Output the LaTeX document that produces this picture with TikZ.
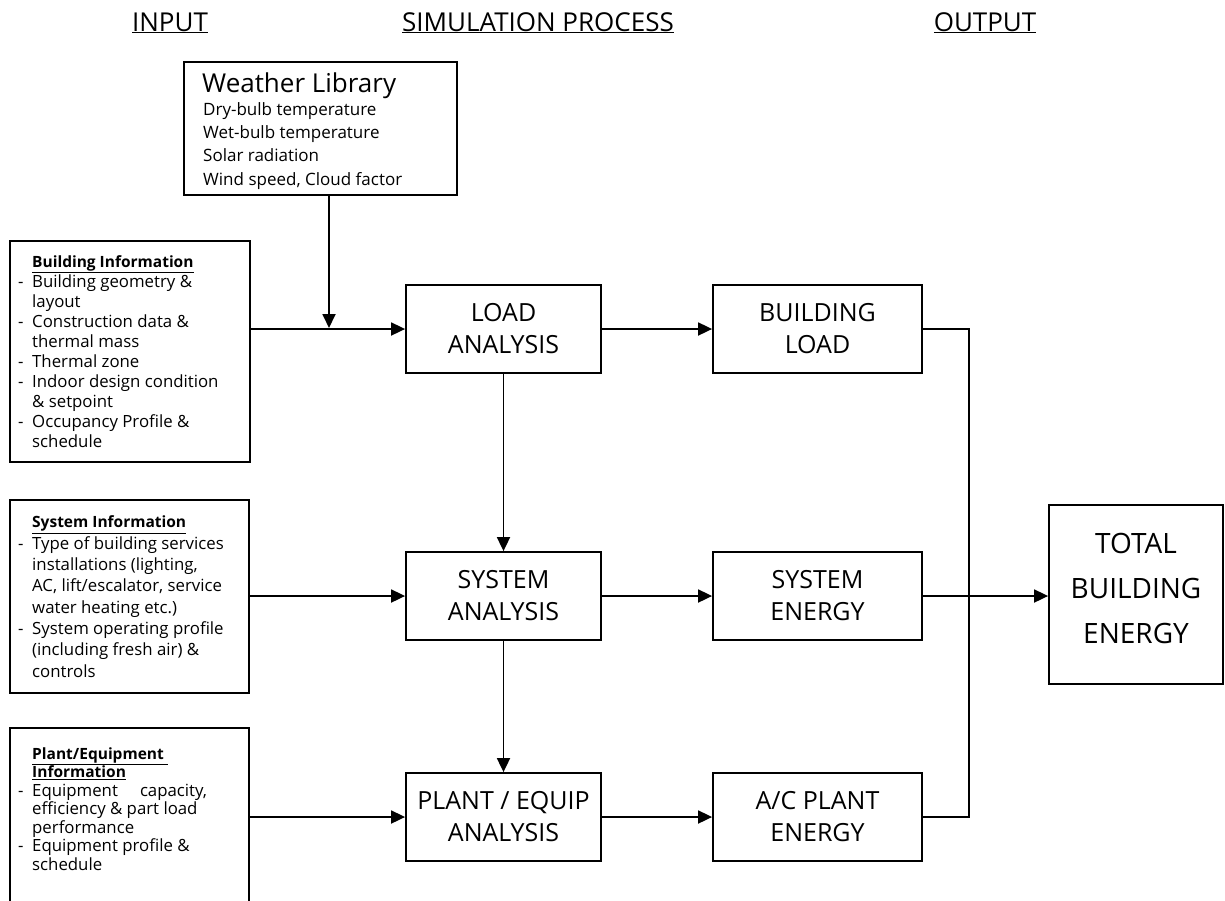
\documentclass[tikz,border=0pt]{standalone}
\usepackage{fontspec}
\setmainfont{Open Sans}
\usetikzlibrary{arrows.meta}
\newcommand\fs[2]{\fontsize{#1}{#2}\selectfont}
\newcommand\dsh{\makebox[14pt][l]{-}}
\newcommand\ind{\hspace*{14pt}}
\begin{document}
\begin{tikzpicture}[x=1pt,y=-1pt,
  frame/.style={draw, line width=1.8pt, inner sep=0pt},
  conn/.style={line width=1.8pt},
  arr/.style={conn, -{Triangle[length=14pt,width=13pt]}},
  hdr/.style={font=\fs{26}{30}, inner sep=0pt, anchor=base},
  proc/.style={frame, minimum height=88pt, align=center, font=\fs{25}{32}},
  info/.style={inner sep=0pt, anchor=base west, align=left},
]
\clip (0,0) rectangle (1225,900);
\fill[white] (0,0) rectangle (1225,900);

% headers
\node[hdr] (hin) at (170,31) {\underline{INPUT}};
\node[hdr] (hsim) at (538,31) {\underline{SIMULATION PROCESS}};
\node[hdr] (hout) at (985,31) {\underline{OUTPUT}};

% weather library (base anchor = baseline of the last line)
\node[frame, minimum width=273pt, minimum height=133pt] (wlib) at (320.5,128.5) {};
\node[info, font=\fs{26}{30}] (wtitle) at (202,92) {Weather Library};
\node[info, font=\fs{17}{23.3}] (wbody) at (203,185) {Dry-bulb temperature\\Wet-bulb temperature\\Solar radiation\\Wind speed, Cloud factor};

% input boxes
\node[frame, minimum width=240pt, minimum height=221pt] (binfo) at (130,351.5) {};
\node[info, font=\fs{16.8}{20}] (btext) at (18,447) {\ind{\bfseries\fs{15.5}{20}\underline{Building Information}}\\
\dsh Building geometry \&\\
\ind layout\\
\dsh Construction data \&\\
\ind thermal mass\\
\dsh Thermal zone\\
\dsh Indoor design condition\\
\ind \& setpoint\\
\dsh Occupancy Profile \&\\
\ind schedule};

\node[frame, minimum width=239pt, minimum height=193pt] (sinfo) at (129.5,596.5) {};
\node[info, font=\fs{16.8}{21.3}] (stext) at (18,677) {\ind{\bfseries\fs{15.5}{21.3}\underline{System Information}}\\
\dsh Type of building services\\
\ind installations (lighting,\\
\ind AC, lift/escalator, service\\
\ind water heating etc.)\\
\dsh System operating profile\\
\ind (including fresh air) \&\\
\ind controls};

\node[frame, minimum width=239pt, minimum height=192pt] (pinfo) at (129.5,824) {};
\node[info, font=\fs{16.8}{18.5}] (ptext) at (18,870) {\ind{\bfseries\fs{15.5}{18.5}\underline{Plant/Equipment\ }}\\
\ind{\bfseries\fs{15.5}{18.5}\underline{Information}}\\
\dsh Equipment\hspace{22pt}capacity,\\
\ind efficiency \& part load\\
\ind performance\\
\dsh Equipment profile \&\\
\ind schedule};

% process boxes
\node[proc, minimum width=195pt] (load) at (503.5,329) {LOAD\\ANALYSIS};
\node[proc, minimum width=209pt] (bload) at (817.5,329) {BUILDING\\LOAD};
\node[proc, minimum width=195pt] (sys) at (503.5,596) {SYSTEM\\ANALYSIS};
\node[proc, minimum width=209pt] (sysE) at (817.5,596) {SYSTEM\\ENERGY};
\node[proc, minimum width=195pt] (plant) at (503.5,817) {PLANT / EQUIP\\ANALYSIS};
\node[proc, minimum width=209pt] (acp) at (817.5,817) {A/C PLANT\\ENERGY};
\node[frame, minimum width=174pt, minimum height=179pt, align=center, font=\fs{28}{45}] (total) at (1136,594.5) {TOTAL\\BUILDING\\ENERGY\\[-33pt]};

% connectors
\coordinate (wj) at (329,328);
\draw[arr] (wlib.south -| wj) -- (wj);
\draw[arr] (binfo.east |- load.west) -- (load.west);
\draw[arr] (load.east) -- (bload.west);
\draw[arr] (load.south) -- (sys.north);
\draw[arr] (sys.south) -- (plant.north);
\draw[arr] (sinfo.east |- sys.west) -- (sys.west);
\draw[arr] (pinfo.east |- plant.west) -- (plant.west);
\draw[arr] (sys.east) -- (sysE.west);
\draw[arr] (plant.east) -- (acp.west);
\coordinate (bus) at (969,596);
\draw[conn] (bload.east) -| (bus) |- (acp.east);
\draw[arr] (sysE.east) -- (total.west |- sysE.east);
\end{tikzpicture}
\end{document}
